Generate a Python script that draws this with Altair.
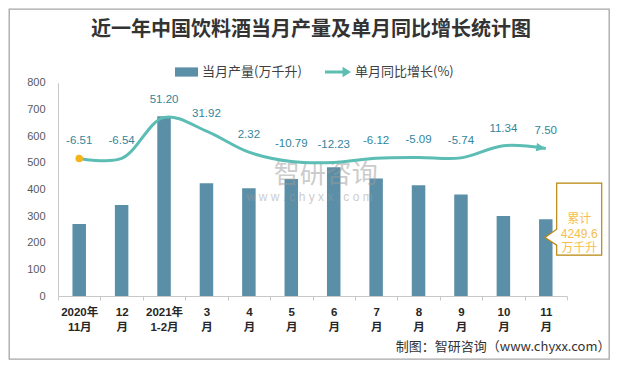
import altair as alt
import pandas as pd

# ---- data ----
months = ["2020年\n11月", "12\n月", "2021年\n1-2月", "3\n月", "4\n月", "5\n月",
          "6\n月", "7\n月", "8\n月", "9\n月", "10\n月", "11\n月"]
output = [270, 341, 674, 423, 404, 439, 483, 441, 415, 381, 300, 288]
growth = [-6.51, -6.54, 51.20, 31.92, 2.32, -10.79, -12.23, -6.12, -5.09, -5.74, 11.34, 7.50]
bar_name = "当月产量(万千升)"
line_name = "单月同比增长(%)"
title_text = "近一年中国饮料酒当月产量及单月同比增长统计图"
source_text = "制图：智研咨询（www.chyxx.com）"
callout_lines = ["累计", "4249.6", "万千升"]
watermark_lines = ["智研咨询", "w w w . c h y x x . c o m"]
y_ticks = [0, 100, 200, 300, 400, 500, 600, 700, 800]

# ---- styles ----
FONT = "Noto Sans CJK SC"
NUMFONT = "Liberation Sans, Noto Sans CJK SC"
BAR = "#5B8FA8"
TEAL = "#5BBDB3"
LABEL = "#31859C"
ORANGE = "#F6B41C"
GOLD = "#B8860B"
CALLTXT = "#F5BE4E"
GRID = "#C8C8C8"

X_RANGE = [49, 558]
Y_RANGE = [287, 73.7]

df = pd.DataFrame({"month": months, "output": output, "growth": growth,
                   "glabel": [f"{v:.2f}" for v in growth],
                   "s1": bar_name, "s2": line_name})
first = df.iloc[[0]]
last = df.iloc[[-1]]
wm = pd.DataFrame({"month": [months[6]]})
ttl = pd.DataFrame({"t": [title_text]})

xscale = alt.Scale(range=X_RANGE, paddingInner=0, paddingOuter=0)
ybar_scale = alt.Scale(domain=[0, 800], range=Y_RANGE, nice=False, zero=True)
yline_scale = alt.Scale(domain=[-200, 100], range=Y_RANGE, nice=False, zero=False)

x_axis = alt.Axis(
    title=source_text, titleX=601, titleY=50.7, titleAlign="right", titleBaseline="middle",
    titleFont=FONT, titleFontSize=13, titleFontWeight="normal", titleColor="#333333",
    labelExpr="split(datum.label, '\\n')", labelAngle=0, labelFont=NUMFONT,
    labelFontSize=11.5, labelFontWeight="bold", labelColor="#262626",
    labelLineHeight=15.4, labelPadding=6, labelBaseline="top",
    tickBand="extent", tickSize=4, tickColor=GRID, domainColor=GRID, grid=False, offset=-63,
)
y_axis = alt.Axis(values=y_ticks, title=None, ticks=False, grid=False, labelPadding=13,
                  labelFont=NUMFONT, labelFontSize=11, labelColor="#595959",
                  domainColor=GRID, offset=-49)

rect_sym = "M -1 -0.4 L 1 -0.4 L 1 0.4 L -1 0.4 Z"
arrow_sym = "M -1 -0.12 L 0.35 -0.12 L 0.35 -0.4 L 1 0 L 0.35 0.4 L 0.35 0.12 L -1 0.12 Z"
callout_sym = "M -0.625 -1 L 0.625 -1 L 0.625 1 L -0.625 1 L -0.625 0.72 L -0.95 0.51 L -0.625 0.28 Z"
arrowhead_sym = "M 0 0 L -1.9 -0.85 L -1.9 0.85 Z"


def X():
    return alt.X("month:N", sort=months, scale=xscale, axis=x_axis)


bars = alt.Chart(df).mark_bar(width=13.5).encode(
    x=X(),
    y=alt.Y("output:Q", scale=ybar_scale, axis=y_axis),
    color=alt.Color("s1:N", scale=alt.Scale(domain=[bar_name], range=[BAR]),
                    legend=alt.Legend(orient="none", legendX=166, legendY=51.5, title=None,
                                      symbolType=rect_sym, symbolSize=529, symbolStrokeWidth=0,
                                      labelFont=FONT, labelFontSize=13, labelColor="#404040",
                                      labelOffset=4, padding=0)),
)

wm1 = alt.Chart(wm).mark_text(font=FONT, fontSize=26, color="#9A9A9A", opacity=0.5, dx=-8).encode(
    x=X(), y=alt.Y(datum=453, scale=ybar_scale, axis=None), text=alt.value(watermark_lines[0]))
wm2 = alt.Chart(wm).mark_text(font=NUMFONT, fontSize=12, color="#9A9A9A", opacity=0.5, dx=-24).encode(
    x=X(), y=alt.Y(datum=370, scale=ybar_scale, axis=None), text=alt.value(watermark_lines[1]))

callout_box = alt.Chart(last).mark_point(shape=callout_sym, size=5184, filled=True, fill="white",
                                         stroke=GOLD, strokeWidth=1.2, opacity=1, xOffset=33.4).encode(
    x=X(), y=alt.Y("output:Q", scale=ybar_scale, axis=None),
)
callout_text = alt.Chart(last).mark_text(text=callout_lines, font=NUMFONT, fontSize=12,
                                         color=CALLTXT, lineHeight=14.5, dx=33.4,
                                         baseline="middle").encode(
    x=X(), y=alt.Y("output:Q", scale=ybar_scale, axis=None),
)

line = alt.Chart(df).mark_line(interpolate="catmull-rom", strokeWidth=3).encode(
    x=X(), y=alt.Y("growth:Q", scale=yline_scale, axis=None),
    stroke=alt.Stroke("s2:N", scale=alt.Scale(domain=[line_name], range=[TEAL]),
                      legend=alt.Legend(orient="none", legendX=316, legendY=50, title=None,
                                        symbolType=arrow_sym, symbolSize=676,
                                        symbolFillColor=TEAL, symbolStrokeWidth=0,
                                        labelFont=FONT, labelFontSize=13, labelColor="#404040",
                                        labelOffset=4, padding=0)),
)
head = alt.Chart(last).mark_point(shape=arrowhead_sym, size=100, filled=True, color=TEAL,
                                  opacity=1, angle=8).encode(
    x=X(), y=alt.Y("growth:Q", scale=yline_scale, axis=None),
)
dot = alt.Chart(first).mark_circle(size=56, color=ORANGE, opacity=1).encode(
    x=X(), y=alt.Y("growth:Q", scale=yline_scale, axis=None),
)
labels = alt.Chart(df).mark_text(font=NUMFONT, fontSize=11.5, color=LABEL, dy=-17,
                                 baseline="middle").encode(
    x=X(), y=alt.Y("growth:Q", scale=yline_scale, axis=None),
    text=alt.Text("glabel:N"),
)

title_mark = alt.Chart(ttl).mark_text(font=FONT, fontSize=20, fontWeight="bold", color="#333333",
                                      align="center", baseline="middle").encode(
    x=alt.value(302), y=alt.value(21), text=alt.Text("t:N"),
)

chart = alt.layer(bars, wm1, wm2, callout_box, callout_text, line, head, dot, labels,
                  title_mark).resolve_scale(y="independent").properties(
    width=600, height=350,
    padding={"left": 1, "top": 1, "right": 1, "bottom": 1},
    autosize=alt.AutoSizeParams(type="none"),
).configure_view(stroke="#A6A6A6", strokeWidth=1.3)

chart.save("out.html", embed_options={"renderer": "svg", "actions": False})
